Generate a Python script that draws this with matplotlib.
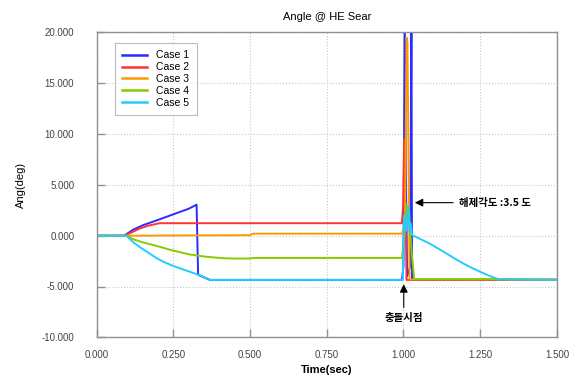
import matplotlib.pyplot as plt
import numpy as np

plt.rcParams['font.family'] = ['Liberation Sans', 'Noto Sans CJK KR', 'DejaVu Sans']

# Case 1
t1 = [0, 0.09, 0.12, 0.151, 0.20, 0.25, 0.30, 0.326, 0.331, 0.35, 0.37, 0.995, 1.000, 1.004, 1.008, 1.012,
      1.022, 1.026, 1.028, 1.5]
v1 = [0, 0, 0.6, 1.03, 1.55, 2.1, 2.65, 3.05, -3.85, -4.1, -4.35, -4.35, -3.0, 22.0, 6.0, -4.0,
      -3.0, 22.0, -4.35, -4.35]
# Case 2
t2 = [0, 0.09, 0.12, 0.14, 0.17, 0.206, 0.995, 0.999, 1.002, 1.004, 1.007, 1.010, 1.5]
v2 = [0, 0, 0.4, 0.7, 1.0, 1.23, 1.23, 3.0, 9.5, 3.5, 3.3, -4.35, -4.35]
# Case 3
t3 = [0, 0.09, 0.30, 0.50, 0.51, 0.995, 1.005, 1.010, 1.013, 1.018, 1.020, 1.5]
v3 = [0, 0, 0.03, 0.05, 0.2, 0.2, 1.0, 19.5, 19.0, 3.0, -4.3, -4.3]
# Case 4
t4 = [0, 0.097, 0.12, 0.15, 0.195, 0.25, 0.304, 0.35, 0.413, 0.45, 0.50, 0.51, 0.995, 1.003, 1.010,
      1.018, 1.025, 1.035, 1.311, 1.5]
v4 = [0, 0, -0.35, -0.65, -1.0, -1.47, -1.85, -2.05, -2.22, -2.25, -2.25, -2.19, -2.19, 0.0, 3.0,
      2.5, -1.0, -4.27, -4.27, -4.34]
# Case 5
t5 = [0, 0.097, 0.12, 0.14, 0.16, 0.18, 0.195, 0.22, 0.25, 0.28, 0.304, 0.337, 0.37, 0.998, 1.002,
      1.008, 1.016, 1.020, 1.024, 1.028, 1.06, 1.088, 1.115, 1.143, 1.17, 1.197, 1.225, 1.252,
      1.28, 1.311, 1.5]
v5 = [0, 0, -0.65, -1.1, -1.5, -1.9, -2.2, -2.6, -2.98, -3.3, -3.55, -3.9, -4.35, -4.35, 2.0,
      0.5, 2.9, 0.35, 1.2, 0.06, -0.4, -0.82, -1.3, -1.8, -2.3, -2.77, -3.2, -3.58,
      -3.95, -4.3, -4.34]

series = [(t1, v1, '#2b2bff', 'Case 1'), (t2, v2, '#ff3333', 'Case 2'),
          (t3, v3, '#ff9900', 'Case 3'), (t4, v4, '#88cc00', 'Case 4'),
          (t5, v5, '#22ccff', 'Case 5')]

fig = plt.figure(figsize=(5.85, 3.82), dpi=100)
ax = fig.add_axes([0.165, 0.117, 0.787, 0.798])

for t, v, c, lab in series:
    ax.plot(t, v, color=c, lw=1.4, label=lab)

ax.set_xlim(0, 1.5)
ax.set_ylim(-10, 20)
ax.set_xticks(np.arange(0, 1.51, 0.25))
ax.set_yticks(np.arange(-10, 20.1, 5))
ax.xaxis.set_major_formatter(plt.FormatStrFormatter('%.3f'))
ax.yaxis.set_major_formatter(plt.FormatStrFormatter('%.3f'))
ax.tick_params(direction='in', length=6, width=1, color='#909090', labelsize=7,
               labelcolor='#444444')
ax.tick_params(axis='y', pad=16)
ax.tick_params(axis='x', pad=9)
ax.grid(True, ls=':', color='#c8c8c8', lw=0.8)
for s in ax.spines.values():
    s.set_color('#909090')
    s.set_linewidth(1.0)

ax.set_title('Angle @ HE Sear', fontsize=8, pad=9)
ax.set_xlabel('Time(sec)', fontsize=8, fontweight='bold', labelpad=4)
ax.set_ylabel('Ang(deg)', fontsize=8, labelpad=11)

leg = ax.legend(loc='upper left', bbox_to_anchor=(0.040, 0.965), borderaxespad=0, fontsize=7.5,
                frameon=True, fancybox=False, edgecolor='#aaaaaa', handlelength=2.4,
                borderpad=0.7, labelspacing=0.17, handletextpad=0.85)
leg.get_frame().set_linewidth(0.8)
for line in leg.get_lines():
    line.set_linewidth(1.8)

kfont = ['Noto Sans CJK KR', 'DejaVu Sans']
ax.annotate('해제각도 :3.5 도', xy=(1.028, 3.25), xytext=(1.18, 3.25), fontsize=7.5,
            fontweight='bold', family=kfont, va='center', ha='left',
            arrowprops=dict(arrowstyle='-|>', color='black', lw=0.8, mutation_scale=12))
ax.annotate('충돌시점', xy=(1.001, -4.5), xytext=(1.001, -8.1), fontsize=7.5,
            fontweight='bold', family=kfont, va='center', ha='center',
            arrowprops=dict(arrowstyle='-|>', color='black', lw=0.8, mutation_scale=12))

fig.savefig('out.png', dpi=100)
